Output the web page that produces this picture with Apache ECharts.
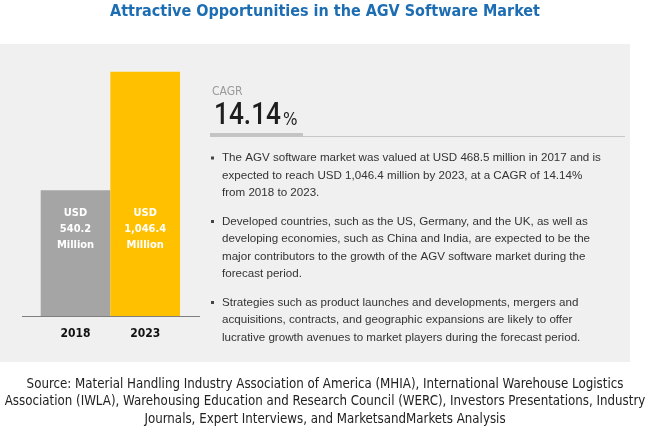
<!DOCTYPE html>
<html>
<head>
<meta charset="utf-8">
<script src="https://cdn.jsdelivr.net/npm/echarts@6/dist/echarts.min.js"></script>
<style>
html,body{margin:0;padding:0;background:#fff;}
#c{width:650px;height:433px;}
</style>
</head>
<body>
<div id="c"></div>
<script>
const titleText = 'Attractive Opportunities in the AGV Software Market';
const years = ['2018', '2023'];
const values = [540.2, 1046.4];
const barColors = ['#a5a5a5', '#ffc000'];
const cagrLabel = 'CAGR';
const cagrValue = '14.14';
const bullets = [
  'The AGV software market was valued at USD 468.5 million in 2017 and is\nexpected to reach USD 1,046.4 million by 2023, at a CAGR of 14.14%\nfrom 2018 to 2023.',
  'Developed countries, such as the US, Germany, and the UK, as well as\ndeveloping economies, such as China and India, are expected to be the\nmajor contributors to the growth of the AGV software market during the\nforecast period.',
  'Strategies such as product launches and developments, mergers and\nacquisitions, contracts, and geographic expansions are likely to offer\nlucrative growth avenues to market players during the forecast period.'
];
const sourceText = 'Source: Material Handling Industry Association of America (MHIA), International Warehouse Logistics\nAssociation (IWLA), Warehousing Education and Research Council (WERC), Investors Presentations, Industry\nJournals, Expert Interviews, and MarketsandMarkets Analysis';

const narrow = '"DejaVu Sans Condensed", "Liberation Sans", sans-serif';
const numFont = '500 32px Roboto, "Liberation Sans", sans-serif';

// fit the width of the CAGR figure to the reference
const mctx = document.createElement('canvas').getContext('2d');
mctx.font = numFont;
const numScale = 67 / mctx.measureText(cagrValue).width;

const chart = echarts.init(document.getElementById('c'), null, {renderer: 'canvas'});

const bulletTops = [149.5, 213, 294];
const graphics = [
  {type: 'rect', z: 0, shape: {x: 0, y: 44, width: 630, height: 318}, style: {fill: '#f0f0f0'}},
  {type: 'text', z: 5, x: 325, y: 12,
    style: {text: titleText, fill: '#1d6db3', font: 'bold 16px ' + narrow, align: 'center', verticalAlign: 'middle'}},
  {type: 'line', z: 5, shape: {x1: 22, y1: 316.5, x2: 200, y2: 316.5}, style: {stroke: '#7f7f7f', lineWidth: 1}},
  {type: 'text', z: 5, x: 212, y: 86, style: {text: cagrLabel, fill: '#9a9a9a', font: '12px ' + narrow, verticalAlign: 'top'}},
  {type: 'text', z: 5, x: 214, y: 116, scaleX: numScale,
    style: {text: cagrValue, fill: '#1e1e1e', font: numFont, verticalAlign: 'middle'}},
  {type: 'text', z: 5, x: 283, y: 120.5,
    style: {text: '%', fill: '#1e1e1e', font: '17px ' + narrow, verticalAlign: 'middle'}},
  {type: 'rect', z: 5, shape: {x: 210, y: 133, width: 93, height: 4}, style: {fill: '#c4c4c4'}},
  {type: 'line', z: 5, shape: {x1: 303, y1: 136.5, x2: 625, y2: 136.5}, style: {stroke: '#c8c8c8', lineWidth: 1}}
];
bullets.forEach((b, i) => {
  graphics.push({type: 'rect', z: 5, shape: {x: 211, y: bulletTops[i] + 7, width: 3, height: 3}, style: {fill: '#444'}});
  graphics.push({type: 'text', z: 5, x: 222, y: bulletTops[i], style: {text: b, fill: '#333', font: '11.6px "Liberation Sans", Arial, sans-serif', lineHeight: 17.4, verticalAlign: 'top'}});
});
graphics.push({type: 'text', z: 5, x: 325, y: 376, style: {text: sourceText, fill: '#222', font: '13.2px ' + narrow, lineHeight: 17.3, align: 'center', verticalAlign: 'top'}});

chart.setOption({
  backgroundColor: '#ffffff',
  animation: false,
  graphic: graphics,
  grid: {left: 40.7, right: 470, top: 59.2, bottom: 116.3},
  xAxis: {
    type: 'category', data: years,
    axisLine: {show: false}, axisTick: {show: false},
    axisLabel: {margin: 11, color: '#111', fontWeight: 'bold', fontSize: 12, fontFamily: narrow}
  },
  yAxis: {type: 'value', min: 0, max: 1100, show: false, splitLine: {show: false}},
  series: [{
    type: 'bar', barCategoryGap: 0, z: 3,
    data: values.map((v, i) => ({value: v, itemStyle: {color: barColors[i]}})),
    label: {
      show: true, position: 'insideBottom', distance: 64,
      color: '#fff', fontWeight: 'bold', fontSize: 11, lineHeight: 16, fontFamily: narrow,
      formatter: p => 'USD\n' + p.value.toLocaleString('en-US', {minimumFractionDigits: 1}) + '\nMillion'
    }
  }]
});
</script>
</body>
</html>
